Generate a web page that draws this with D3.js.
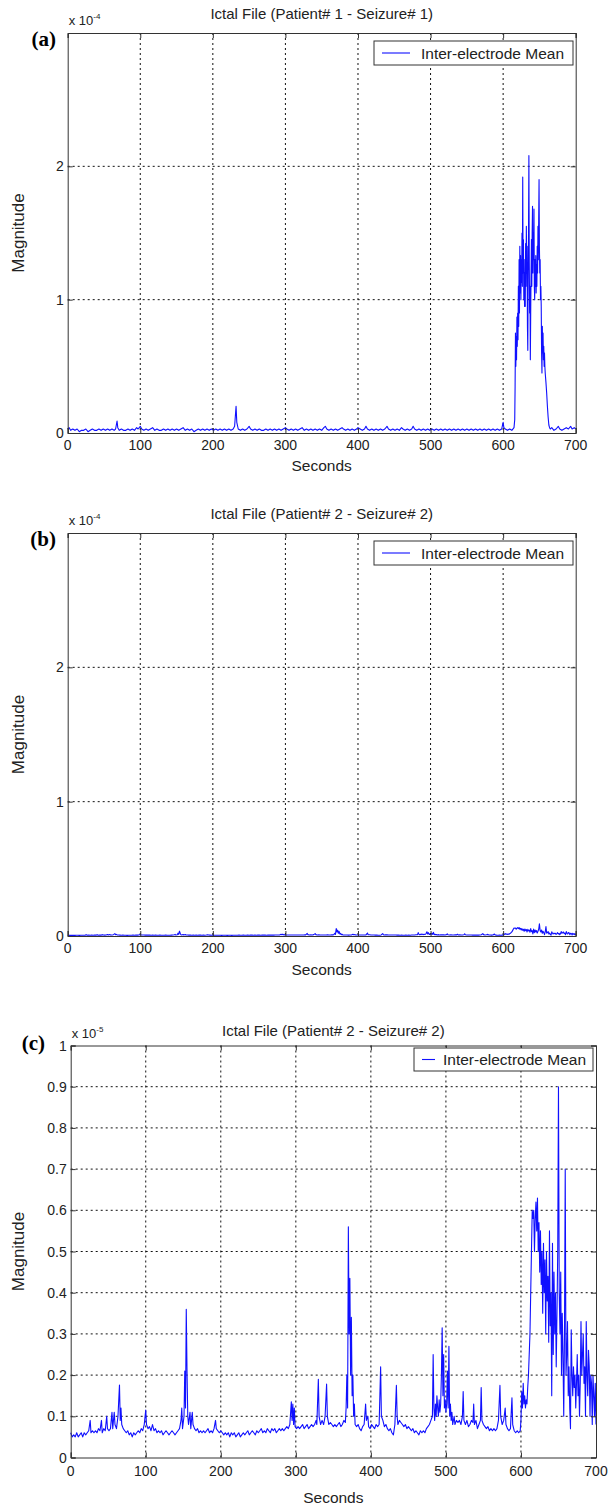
<!DOCTYPE html>
<html>
<head>
<meta charset="utf-8">
<script src="https://cdn.jsdelivr.net/npm/d3@7"></script>
<style>
  body { margin: 0; background: #fff; }
  text { font-family: "Liberation Sans", Arial, sans-serif; fill: #222; }
</style>
</head>
<body>
<div id="my_dataviz"></div>
<script>
// ---- data ----
const secondsTicks = [0, 100, 200, 300, 400, 500, 600, 700];
const yTicksAB = [0, 1, 2];
const yTicksC = [0, 0.1, 0.2, 0.3, 0.4, 0.5, 0.6, 0.7, 0.8, 0.9, 1];
const titles = ["Ictal File (Patient# 1 - Seizure# 1)", "Ictal File (Patient# 2 - Seizure# 2)", "Ictal File (Patient# 2 - Seizure# 2)"];
const panelLabels = ["(a)", "(b)", "(c)"];
const legendLabel = "Inter-electrode Mean";

// patient 1, seizure 1: [seconds, magnitude x 1e-4]
const seizure1 = [[0,0.03],[2,0.04],[4,0.02],[7,0.03],[10,0.02],[13,0.03],[16,0.01],[19,0.02],[22,0.02],[25,0.03],[28,0.01],[31,0.02],[34,0.03],[37,0.02],[40,0.02],[43,0.03],[46,0.02],[49,0.03],[52,0.02],[55,0.03],[58,0.02],[61,0.03],[64,0.02],[66,0.03],[68,0.09],[69,0.04],[71,0.02],[74,0.03],[77,0.02],[80,0.02],[83,0.03],[86,0.02],[89,0.03],[92,0.02],[95,0.04],[97,0.03],[100,0.05],[102,0.03],[105,0.02],[108,0.03],[111,0.02],[114,0.03],[117,0.04],[120,0.02],[123,0.03],[126,0.02],[129,0.02],[132,0.03],[135,0.02],[138,0.03],[141,0.02],[144,0.03],[147,0.02],[150,0.03],[153,0.02],[156,0.03],[159,0.04],[162,0.02],[165,0.03],[168,0.02],[171,0.03],[174,0.01],[177,0.02],[180,0.03],[183,0.02],[186,0.03],[189,0.02],[192,0.03],[195,0.02],[198,0.03],[201,0.02],[204,0.03],[207,0.02],[210,0.03],[213,0.02],[216,0.03],[219,0.02],[222,0.03],[225,0.02],[228,0.03],[230,0.05],[232,0.2],[233,0.08],[235,0.03],[238,0.02],[241,0.03],[244,0.02],[247,0.03],[250,0.05],[252,0.03],[255,0.02],[258,0.03],[261,0.02],[264,0.03],[267,0.02],[270,0.02],[273,0.03],[276,0.02],[279,0.03],[282,0.02],[285,0.03],[288,0.02],[291,0.03],[294,0.02],[297,0.03],[300,0.04],[302,0.03],[305,0.02],[308,0.03],[311,0.02],[314,0.03],[317,0.02],[320,0.03],[323,0.04],[326,0.02],[329,0.03],[332,0.02],[335,0.03],[338,0.02],[341,0.03],[344,0.02],[347,0.03],[350,0.02],[353,0.04],[355,0.05],[357,0.03],[360,0.02],[363,0.03],[366,0.02],[369,0.03],[372,0.02],[375,0.03],[378,0.04],[380,0.03],[383,0.02],[386,0.03],[389,0.02],[392,0.03],[395,0.02],[398,0.03],[400,0.04],[403,0.03],[406,0.02],[409,0.03],[411,0.05],[413,0.03],[416,0.02],[419,0.03],[422,0.02],[425,0.03],[428,0.02],[431,0.03],[434,0.02],[437,0.03],[440,0.05],[442,0.03],[445,0.02],[448,0.03],[451,0.02],[454,0.03],[457,0.02],[460,0.04],[462,0.03],[465,0.02],[468,0.03],[471,0.02],[474,0.03],[476,0.05],[478,0.03],[481,0.02],[484,0.03],[487,0.02],[490,0.03],[493,0.02],[496,0.03],[499,0.02],[502,0.03],[505,0.02],[508,0.03],[511,0.02],[514,0.03],[517,0.02],[520,0.03],[523,0.02],[526,0.03],[529,0.02],[532,0.03],[535,0.02],[538,0.03],[541,0.02],[544,0.03],[547,0.02],[550,0.03],[553,0.02],[556,0.03],[559,0.02],[562,0.03],[565,0.02],[568,0.03],[571,0.02],[574,0.03],[577,0.02],[580,0.03],[583,0.02],[586,0.03],[589,0.02],[592,0.03],[595,0.02],[598,0.03],[600,0.08],[601,0.04],[603,0.03],[606,0.02],[609,0.03],[612,0.02],[615,0.04],[616,0.1],[616.5,0.35],[617,0.75],[617.5,0.5],[618,0.72],[618.5,0.55],[619,0.87],[619.5,0.65],[620,0.9],[620.5,0.7],[621,1.1],[621.5,0.8],[622,1.3],[622.5,0.9],[623,1.4],[623.5,1.05],[624,1.33],[624.5,1.0],[625,1.3],[625.5,1.13],[626,1.5],[626.5,1.1],[627,1.92],[627.5,1.2],[628,1.45],[628.5,1.0],[629,1.3],[629.5,0.95],[630,1.2],[630.5,0.95],[631,1.42],[631.5,1.1],[632,1.55],[632.5,1.2],[633,1.4],[633.5,0.8],[634,0.62],[634.5,1.2],[635,1.5],[635.5,2.08],[636,1.3],[636.5,0.9],[637,1.1],[637.5,0.55],[638,0.9],[638.5,1.2],[639,1.45],[639.5,1.1],[640,1.5],[640.5,1.7],[641,1.2],[641.5,1.5],[642,1.3],[642.5,1.68],[643,1.1],[643.5,1.0],[644,1.3],[644.5,1.1],[645,1.33],[645.5,1.05],[646,1.26],[646.5,1.1],[647,1.4],[647.5,1.2],[648,1.55],[648.5,1.3],[649,1.6],[649.5,1.9],[650,1.4],[650.5,1.2],[651,1.3],[651.5,1.0],[652,1.1],[652.5,0.95],[653,0.6],[653.5,0.45],[654,0.8],[654.5,0.6],[655,0.75],[655.5,0.55],[656,0.65],[656.5,0.5],[657,0.6],[657.5,0.5],[658,0.45],[659,0.38],[660,0.3],[661,0.2],[662,0.12],[663,0.06],[664,0.04],[665,0.03],[667,0.04],[670,0.02],[673,0.03],[676,0.05],[678,0.03],[681,0.02],[684,0.03],[687,0.04],[690,0.03],[693,0.05],[695,0.03],[698,0.04],[700,0.03]];

// patient 2, seizure 2: [seconds, magnitude x 1e-5] (shown twice, b and c)
const seizure2 = [[0,0.06],[2,0.05],[4,0.055],[6,0.05],[8,0.06],[10,0.05],[12,0.055],[14,0.06],[16,0.05],[18,0.06],[20,0.055],[22,0.06],[24,0.065],[26,0.09],[27,0.06],[29,0.065],[31,0.06],[33,0.065],[35,0.06],[37,0.07],[39,0.065],[41,0.09],[42,0.06],[44,0.07],[46,0.065],[48,0.1],[49,0.07],[51,0.065],[53,0.07],[55,0.11],[56,0.07],[58,0.11],[59,0.08],[61,0.07],[63,0.1],[65,0.176],[66,0.09],[67,0.12],[68,0.08],[70,0.07],[72,0.065],[74,0.06],[76,0.065],[78,0.055],[80,0.06],[82,0.05],[84,0.06],[86,0.055],[88,0.06],[90,0.065],[92,0.06],[94,0.07],[96,0.065],[98,0.08],[100,0.115],[101,0.08],[103,0.07],[105,0.075],[107,0.065],[109,0.08],[111,0.065],[113,0.07],[115,0.06],[117,0.065],[119,0.06],[121,0.065],[123,0.055],[125,0.06],[127,0.065],[129,0.06],[131,0.055],[133,0.06],[135,0.065],[137,0.06],[139,0.055],[141,0.06],[143,0.065],[145,0.07],[147,0.09],[148,0.12],[149,0.07],[151,0.1],[152,0.21],[153,0.12],[154,0.36],[155,0.21],[156,0.1],[157,0.08],[159,0.11],[160,0.07],[162,0.11],[163,0.08],[165,0.07],[167,0.065],[169,0.07],[171,0.06],[173,0.065],[175,0.06],[177,0.065],[179,0.06],[181,0.065],[183,0.07],[185,0.06],[187,0.065],[189,0.06],[191,0.07],[193,0.09],[194,0.07],[196,0.065],[198,0.06],[200,0.065],[202,0.06],[204,0.055],[206,0.06],[208,0.055],[210,0.06],[212,0.05],[214,0.06],[216,0.055],[218,0.06],[220,0.05],[222,0.055],[224,0.06],[226,0.05],[228,0.055],[230,0.06],[232,0.055],[234,0.06],[236,0.065],[238,0.055],[240,0.06],[242,0.065],[244,0.06],[246,0.055],[248,0.065],[250,0.06],[252,0.065],[254,0.07],[256,0.06],[258,0.065],[260,0.06],[262,0.07],[264,0.065],[266,0.06],[268,0.07],[270,0.065],[272,0.07],[274,0.06],[276,0.065],[278,0.07],[280,0.065],[282,0.07],[284,0.065],[286,0.07],[288,0.075],[290,0.07],[292,0.08],[294,0.135],[295,0.09],[296,0.13],[297,0.08],[298,0.12],[299,0.075],[301,0.07],[303,0.075],[305,0.07],[307,0.075],[309,0.08],[311,0.07],[313,0.075],[315,0.08],[317,0.07],[319,0.075],[321,0.08],[323,0.075],[325,0.08],[327,0.09],[328,0.08],[330,0.19],[331,0.1],[333,0.08],[335,0.09],[337,0.08],[339,0.1],[341,0.178],[342,0.1],[344,0.08],[346,0.085],[348,0.08],[350,0.075],[352,0.08],[354,0.075],[356,0.08],[358,0.085],[360,0.075],[362,0.08],[364,0.09],[366,0.085],[367,0.12],[368,0.2],[369,0.12],[370,0.56],[371,0.3],[372,0.435],[373,0.2],[374,0.34],[375,0.15],[376,0.2],[377,0.1],[378,0.13],[379,0.08],[381,0.075],[383,0.08],[385,0.07],[387,0.065],[389,0.075],[391,0.08],[393,0.13],[394,0.09],[396,0.1],[397,0.075],[399,0.07],[401,0.08],[403,0.075],[405,0.07],[407,0.08],[409,0.075],[411,0.08],[413,0.22],[414,0.1],[416,0.09],[418,0.075],[420,0.08],[422,0.07],[424,0.065],[426,0.07],[428,0.06],[430,0.055],[432,0.08],[434,0.175],[435,0.1],[436,0.08],[438,0.09],[440,0.085],[442,0.08],[444,0.075],[446,0.08],[448,0.07],[450,0.075],[452,0.07],[454,0.065],[456,0.07],[458,0.06],[460,0.065],[462,0.06],[464,0.055],[466,0.065],[468,0.06],[470,0.065],[472,0.06],[474,0.07],[476,0.075],[478,0.08],[480,0.09],[482,0.1],[483,0.25],[484,0.12],[485,0.09],[486,0.13],[487,0.1],[488,0.15],[489,0.12],[490,0.1],[491,0.14],[492,0.11],[493,0.13],[494,0.2],[495,0.315],[496,0.15],[497,0.25],[498,0.12],[499,0.14],[500,0.11],[501,0.13],[502,0.21],[503,0.12],[504,0.27],[505,0.1],[506,0.13],[507,0.09],[508,0.11],[509,0.08],[511,0.1],[512,0.08],[514,0.09],[516,0.085],[518,0.09],[520,0.08],[522,0.1],[523,0.16],[524,0.09],[526,0.08],[528,0.09],[530,0.075],[532,0.08],[534,0.09],[536,0.085],[537,0.13],[538,0.08],[540,0.09],[542,0.07],[544,0.08],[546,0.09],[547,0.17],[548,0.09],[550,0.08],[552,0.075],[554,0.07],[556,0.075],[558,0.065],[560,0.07],[562,0.065],[564,0.07],[566,0.065],[568,0.07],[570,0.09],[572,0.175],[573,0.1],[575,0.08],[577,0.09],[579,0.12],[580,0.08],[582,0.07],[584,0.065],[586,0.07],[588,0.145],[589,0.08],[591,0.065],[593,0.06],[595,0.065],[597,0.06],[599,0.065],[600,0.09],[601,0.16],[602,0.12],[603,0.18],[604,0.13],[605,0.15],[606,0.12],[607,0.14],[608,0.13],[609,0.17],[610,0.2],[611,0.25],[612,0.3],[613,0.4],[614,0.5],[615,0.6],[616,0.58],[617,0.6],[618,0.5],[619,0.58],[620,0.62],[621,0.55],[622,0.63],[623,0.5],[624,0.57],[625,0.45],[626,0.55],[627,0.42],[628,0.5],[629,0.35],[630,0.52],[631,0.4],[632,0.48],[633,0.3],[634,0.5],[635,0.38],[636,0.44],[637,0.28],[638,0.55],[639,0.32],[640,0.4],[641,0.15],[642,0.52],[643,0.25],[644,0.45],[645,0.3],[646,0.4],[647,0.22],[648,0.35],[649,0.5],[650,0.9],[651,0.4],[652,0.3],[653,0.45],[654,0.2],[655,0.35],[656,0.25],[657,0.1],[658,0.3],[659,0.7],[660,0.2],[661,0.25],[662,0.33],[663,0.15],[664,0.22],[665,0.12],[666,0.07],[667,0.31],[668,0.2],[669,0.15],[670,0.22],[671,0.17],[672,0.2],[673,0.12],[674,0.18],[675,0.25],[676,0.15],[677,0.2],[678,0.1],[679,0.18],[680,0.33],[681,0.2],[682,0.25],[683,0.3],[684,0.18],[685,0.22],[686,0.1],[687,0.33],[688,0.2],[689,0.15],[690,0.26],[691,0.22],[692,0.1],[693,0.2],[694,0.18],[695,0.08],[696,0.2],[697,0.15],[698,0.1],[699,0.18],[700,0.08]];

// ---- layout of the three axes (pixels) ----
const panels = [
    { data: seizure1, dataUnit: 1e-4, axisUnit: 1e-4, exp: "-4", yTicks: yTicksAB, yMax: 3,
      left: 67.7, right: 575.7, top: 33, bottom: 433, titleY: 19, labX: 56, labY: 46,
      legend: { x: 374, y: 41, w: 199, h: 24, line: 28, gap: 11 }, xLabDy: 17, secDy: 38 },
    { data: seizure2, dataUnit: 1e-5, axisUnit: 1e-4, exp: "-4", yTicks: yTicksAB, yMax: 3,
      left: 67.7, right: 575.7, top: 533, bottom: 936, titleY: 519, labX: 56, labY: 546,
      legend: { x: 374, y: 541, w: 199, h: 24, line: 28, gap: 11 }, xLabDy: 17, secDy: 39 },
    { data: seizure2, dataUnit: 1e-5, axisUnit: 1e-5, exp: "-5", yTicks: yTicksC, yMax: 1,
      left: 70.7, right: 596, top: 1045.5, bottom: 1457.5, titleY: 1036, labX: 45, labY: 1050,
      legend: { x: 414, y: 1048, w: 179, h: 23, line: 13, gap: 8 }, xLabDy: 18, secDy: 45 }
];

const svg = d3.select("#my_dataviz")
    .append("svg")
    .attr("width", 608)
    .attr("height", 1509);

panels.forEach(function (p, i) {
    const x = d3.scaleLinear().domain([0, 700]).range([p.left, p.right]);
    const y = d3.scaleLinear().domain([0, p.yMax * p.axisUnit]).range([p.bottom, p.top]);
    const g = svg.append("g");
    const fmt = function (d) { return String(+(d / p.axisUnit).toFixed(2)); };
    const yTickVals = p.yTicks.map(function (t) { return t * p.axisUnit; });

    // dotted grid
    const grid = g.append("g").attr("stroke", "#111").attr("stroke-dasharray", "2,3").attr("stroke-width", 1);
    grid.selectAll(".gx").data(secondsTicks.slice(1, -1)).join("line")
        .attr("x1", d => x(d)).attr("x2", d => x(d))
        .attr("y1", p.top).attr("y2", p.bottom);
    grid.selectAll(".gy").data(yTickVals.filter(v => v > 0 && v < p.yMax * p.axisUnit)).join("line")
        .attr("y1", d => y(d)).attr("y2", d => y(d))
        .attr("x1", p.left).attr("x2", p.right);

    // signal
    const line = d3.line()
        .x(d => x(d[0]))
        .y(d => y(d[1] * p.dataUnit));
    g.append("path")
        .datum(p.data)
        .attr("fill", "none")
        .attr("stroke", "#1010ff")
        .attr("stroke-width", 1.1)
        .attr("stroke-linejoin", "round")
        .attr("d", line);

    // axes with inward ticks on all sides
    const axB = d3.axisBottom(x).tickValues(secondsTicks).tickSize(-5).tickFormat("");
    const axT = d3.axisTop(x).tickValues(secondsTicks).tickSize(-5).tickFormat("");
    const axL = d3.axisLeft(y).tickValues(yTickVals).tickSize(-5).tickFormat("");
    const axR = d3.axisRight(y).tickValues(yTickVals).tickSize(-5).tickFormat("");
    [[axB, `translate(0,${p.bottom})`], [axT, `translate(0,${p.top})`],
     [axL, `translate(${p.left},0)`], [axR, `translate(${p.right},0)`]].forEach(function (a) {
        const ag = g.append("g").attr("transform", a[1]).call(a[0]);
        ag.select(".domain").attr("stroke", "#333");
        ag.selectAll(".tick line").attr("stroke", "#333");
    });

    // tick labels
    g.selectAll(".xl").data(secondsTicks).join("text")
        .attr("x", d => x(d)).attr("y", p.bottom + p.xLabDy)
        .attr("text-anchor", "middle").attr("font-size", 14)
        .text(d => d);
    g.selectAll(".yl").data(yTickVals).join("text")
        .attr("x", p.left - 4).attr("y", d => y(d) + 5)
        .attr("text-anchor", "end").attr("font-size", 14)
        .text(fmt);

    // exponent
    const ex = g.append("text").attr("x", p.left + 1).attr("y", p.top - 8).attr("font-size", 13);
    ex.append("tspan").text("x 10");
    ex.append("tspan").attr("font-size", 8).attr("dy", -6).text(p.exp);

    // title, axis names, panel letter
    g.append("text").attr("x", (p.left + p.right) / 2).attr("y", p.titleY)
        .attr("text-anchor", "middle").attr("font-size", 15).text(titles[i]);
    g.append("text").attr("x", (p.left + p.right) / 2).attr("y", p.bottom + p.secDy)
        .attr("text-anchor", "middle").attr("font-size", 15.5).text("Seconds");
    g.append("text")
        .attr("transform", `translate(24,${(p.top + p.bottom) / 2}) rotate(-90)`)
        .attr("text-anchor", "middle").attr("font-size", 17).text("Magnitude");
    g.append("text").attr("x", p.labX).attr("y", p.labY)
        .attr("text-anchor", "end").attr("font-size", 21).attr("font-weight", "bold")
        .style("font-family", "'Liberation Serif', 'Times New Roman', serif")
        .style("fill", "#000")
        .text(panelLabels[i]);

    // legend
    const L = p.legend;
    const lg = g.append("g");
    lg.append("rect").attr("x", L.x).attr("y", L.y).attr("width", L.w).attr("height", L.h)
        .attr("fill", "#fff").attr("stroke", "#333");
    lg.append("line").attr("x1", L.x + 8).attr("x2", L.x + 8 + L.line)
        .attr("y1", L.y + L.h / 2).attr("y2", L.y + L.h / 2)
        .attr("stroke", "#1010ff").attr("stroke-width", 1.1);
    lg.append("text").attr("x", L.x + 8 + L.line + L.gap).attr("y", L.y + L.h / 2 + 5.5)
        .attr("font-size", 15.5).text(legendLabel);
});
</script>
</body>
</html>
